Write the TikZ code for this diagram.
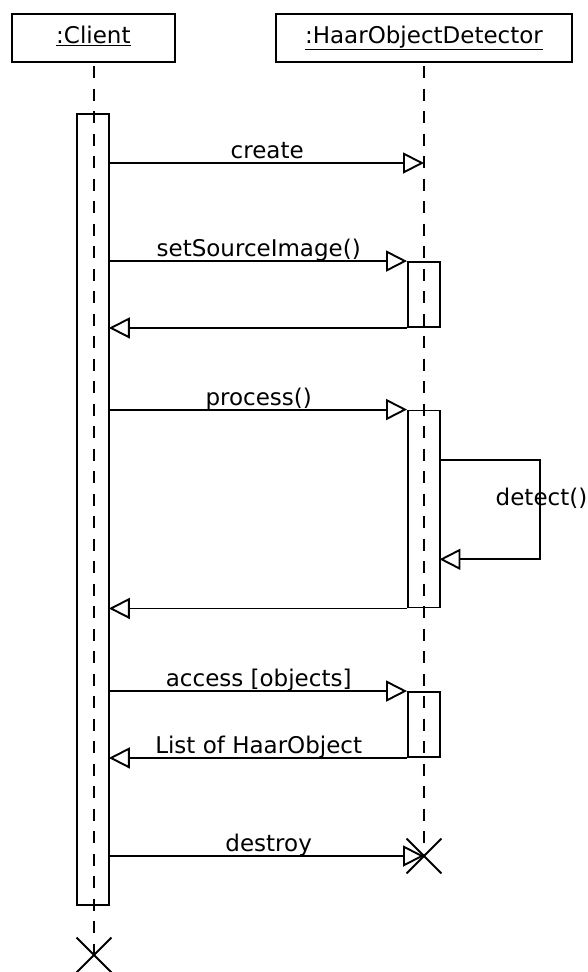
\documentclass[tikz,border=0pt]{standalone}
\usepackage{fontspec}
\setmainfont{DejaVu Sans}
\usetikzlibrary{arrows.meta,shapes.misc}

\begin{document}
\begin{tikzpicture}[x=1pt,y=-1pt,
  line width=1.9pt,
  txt/.style={font=\fontsize{23}{28}\selectfont},
  head/.style={draw, txt, rectangle, inner sep=0pt,
    text height=16.8pt, text depth=6.2pt, minimum height=47.7pt},
  bar/.style={draw, rectangle, minimum width=32pt, inner sep=0pt},
  lifeline/.style={dash pattern=on 12pt off 10.5pt, dash phase=19.5pt, line width=1.8pt},
  msg/.style={-{Triangle[open, length=21pt, width=21pt]}, line join=miter},
  reply/.style={msg, shorten >=-1.5pt},
  lbl/.style={txt, midway, anchor=base, inner sep=0pt, yshift=4.5pt},
  endmark/.style={cross out, draw, minimum size=33pt, inner sep=0pt, line width=1.8pt}
]
\useasboundingbox (0,0) rectangle (587,972);

% object heads
\node[head, minimum width=163.3pt] (client) at (93.4,38.2) {\underline{:Client}};
\node[head, minimum width=296pt]   (haar)   at (424,38.2)  {\underline{:HaarObjectDetector}};

% destruction marks
\node[endmark] (cx) at (94,955) {};
\node[endmark] (hx) at (424,856) {};

% lifelines
\draw[lifeline] (cx.center |- client.south) -- (cx.center);
\draw[lifeline] (haar.south) -- (hx.center);

% activation bars
\node[bar, minimum height=791.3pt] (cbar) at (93.4,509.4) {};
\node[bar, minimum height=65pt]    (hb1)  at (424,294.5) {};
\node[bar, minimum height=197pt]   (hb2)  at (424,509)   {};
\node[bar, minimum height=65pt]    (hb3)  at (424,724.5) {};

% message anchors on the detector lifeline
\coordinate (mcreate) at (424,163);
\coordinate (loopA) at (540,460.3);
\coordinate (loopB) at (540,559.3);

% create
\draw[msg] (cbar.east |- mcreate) -- (mcreate) node[lbl] {create};

% setSourceImage()
\draw[msg] (cbar.east |- hb1.north west) -- (hb1.north west) node[lbl] {setSourceImage()};
\draw[reply] (hb1.south west) -- (cbar.east |- hb1.south west);

% process()
\draw[msg] (cbar.east |- hb2.north west) -- (hb2.north west) node[lbl] {process()};
\draw[reply] (hb2.east |- loopA) -- (loopA) -- (loopB) -- (hb2.east |- loopB);
\node[txt, anchor=base, inner sep=0pt] (detect) at (541.5,505.7) {detect()};
\draw[reply] (hb2.south west) -- (cbar.east |- hb2.south west);

% access [objects]
\draw[msg] (cbar.east |- hb3.north west) -- (hb3.north west) node[lbl] {access [objects]};
\draw[reply] (hb3.south west) -- (cbar.east |- hb3.south west) node[lbl] {List of HaarObject};

% destroy
\draw[msg] (cbar.east |- hx.center) -- (hx.center) node[lbl, xshift=1.5pt] {destroy};

\end{tikzpicture}
\end{document}
